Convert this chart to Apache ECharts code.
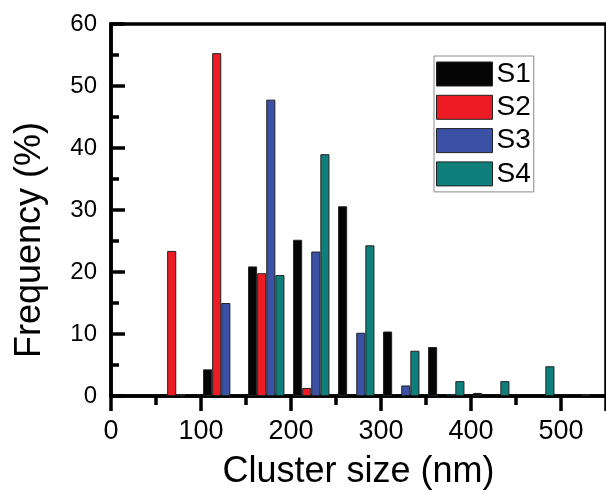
<!DOCTYPE html>
<html>
<head>
<meta charset="utf-8">
<script src="https://cdn.jsdelivr.net/npm/echarts@6/dist/echarts.min.js"></script>
<style>
html,body{margin:0;padding:0;background:#fff;}
#chart{width:606px;height:503px;}
</style>
</head>
<body>
<div id="chart"></div>
<script>
// Bin centres (nm) of each bar group
var binCenters = [72.5, 122.5, 172.5, 222.5, 272.5, 322.5, 372.5, 422.5, 472.5, 522.5];
// Frequency (%) per sample; null = no bar
var S1 = [null, 4.3, 20.9, 25.2, 30.6, 10.4, 7.9, 0.5, null, null];
var S2 = [23.4, 55.3, 19.8, 1.3, null, null, null, null, null, null];
var S3 = [0.3, 15.0, 47.8, 23.3, 10.2, 1.7, 0.3, null, null, 0.3];
var S4 = [null, null, 19.5, 39.0, 24.3, 7.3, 2.4, 2.4, 4.8, null];
var seriesNames = ['S1', 'S2', 'S3', 'S4'];
var seriesColors = ['#050505', '#ed1c24', '#3a51a5', '#0f7f7b'];

var FONT = 'Liberation Sans';
function pairs(vals) {
  var out = [];
  for (var i = 0; i < binCenters.length; i++) {
    if (vals[i] !== null) out.push([binCenters[i], vals[i]]);
  }
  return out;
}
var allVals = [S1, S2, S3, S4];
var series = allVals.map(function (v, i) {
  return {
    name: seriesNames[i],
    type: 'bar',
    xAxisIndex: 0,
    yAxisIndex: 0,
    data: pairs(v),
    barWidth: 9.1,
    barGap: '0%',
    itemStyle: { color: seriesColors[i], borderColor: '#222', borderWidth: 1 }
  };
});

function tickAxisX(interval, len) {
  return {
    type: 'value', position: 'bottom', min: 0, max: 550, interval: interval,
    axisLine: { show: false },
    axisTick: { show: true, inside: false, length: len, lineStyle: { color: '#000', width: 3.5 } },
    axisLabel: { show: false }, splitLine: { show: false }
  };
}
function tickAxisY(interval, len) {
  return {
    type: 'value', position: 'left', min: 0, max: 60, interval: interval,
    axisLine: { show: false },
    axisTick: { show: true, inside: true, length: len, lineStyle: { color: '#000', width: 3.5 } },
    axisLabel: { show: false }, splitLine: { show: false }
  };
}

var chart = echarts.init(document.getElementById('chart'));
chart.setOption({
  animation: false,
  grid: {
    left: 111, top: 24, width: 501, height: 372,
    show: true, borderColor: '#000', borderWidth: 3.5
  },
  legend: {
    orient: 'vertical',
    left: 434, top: 56,
    data: seriesNames,
    icon: 'rect',
    itemWidth: 56, itemHeight: 24, itemGap: 5.3,
    padding: [4, 3, 4, 2],
    borderColor: '#8a8a8a', borderWidth: 1,
    itemStyle: { borderColor: '#222', borderWidth: 1 },
    textStyle: { fontFamily: FONT, fontSize: 28, color: '#000', padding: [0, 0, 0, -1] }
  },
  xAxis: [{
    type: 'value',
    min: 0, max: 550, interval: 100,
    name: 'Cluster size (nm)',
    nameLocation: 'middle',
    nameGap: 58,
    nameTextStyle: { fontFamily: FONT, fontSize: 36, color: '#000' },
    axisLine: { show: true, lineStyle: { color: '#000', width: 3.5 } },
    axisTick: { show: false },
    axisLabel: { show: true, margin: 22, fontFamily: FONT, fontSize: 27, color: '#000', showMaxLabel: false },
    splitLine: { show: false }
  }, tickAxisX(100, 15), tickAxisX(50, 9)],
  yAxis: [{
    type: 'value',
    min: 0, max: 60, interval: 10,
    axisLine: { show: true, lineStyle: { color: '#000', width: 3.5 } },
    axisTick: { show: false },
    axisLabel: { margin: 14, fontFamily: FONT, fontSize: 24, color: '#000' },
    splitLine: { show: false }
  }, tickAxisY(10, 14), tickAxisY(5, 8)],
  graphic: [{
    type: 'text',
    x: 30, y: 240,
    rotation: Math.PI / 2,
    style: {
      text: 'Frequency (%)',
      fontFamily: FONT, fontSize: 36, fill: '#000',
      align: 'center', verticalAlign: 'middle'
    }
  }],
  series: series
});
</script>
</body>
</html>
